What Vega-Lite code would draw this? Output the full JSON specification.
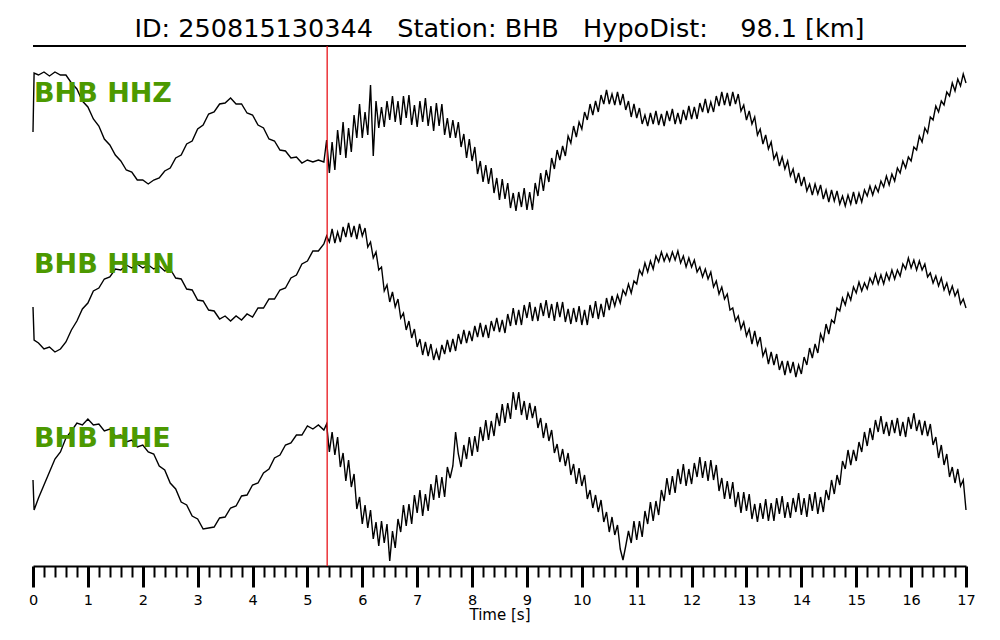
{
"$schema": "https://vega.github.io/schema/vega-lite/v6.json",
"width": 933,
"height": 520,
"autosize": {"type": "none"},
"padding": {"left": 33, "top": 46, "right": 34, "bottom": 74},
"background": "white",
"config": {"view": {"stroke": null}, "font": "DejaVu Sans"},
"title": {"text": "ID: 250815130344\u00a0\u00a0\u00a0Station: BHB\u00a0\u00a0\u00a0HypoDist:\u00a0\u00a0\u00a0\u00a098.1 [km]", "font": "DejaVu Sans", "fontSize": 25.5, "fontWeight": "normal", "color": "black", "anchor": "middle", "frame": "group", "baseline": "alphabetic", "offset": 9, "dy": 26},
"datasets": {
"traces": [
{"t":0,"z":434,"n":259,"e":86},
{"t":0.02,"z":493,"n":226,"e":56},
{"t":0.1,"z":491,"n":223,"e":68},
{"t":0.2,"z":494,"n":217,"e":81},
{"t":0.3,"z":490,"n":219,"e":94},
{"t":0.4,"z":494,"n":214,"e":107},
{"t":0.5,"z":491,"n":217,"e":114},
{"t":0.6,"z":491,"n":224,"e":128},
{"t":0.7,"z":483,"n":236,"e":135},
{"t":0.8,"z":477,"n":245,"e":143},
{"t":0.9,"z":465,"n":257,"e":141},
{"t":1.0,"z":459,"n":263,"e":147},
{"t":1.1,"z":447,"n":275,"e":141},
{"t":1.2,"z":440,"n":278,"e":142},
{"t":1.3,"z":427,"n":287,"e":135},
{"t":1.4,"z":421,"n":289,"e":137},
{"t":1.5,"z":411,"n":297,"e":130},
{"t":1.6,"z":405,"n":296,"e":131},
{"t":1.7,"z":396,"n":301,"e":124},
{"t":1.8,"z":394,"n":298,"e":126},
{"t":1.9,"z":386,"n":302,"e":119},
{"t":2.0,"z":386,"n":298,"e":121},
{"t":2.1,"z":382,"n":301,"e":114},
{"t":2.2,"z":386,"n":297,"e":112},
{"t":2.3,"z":388,"n":300,"e":100},
{"t":2.4,"z":395,"n":295,"e":96},
{"t":2.5,"z":398,"n":297,"e":83},
{"t":2.6,"z":408,"n":288,"e":77},
{"t":2.7,"z":411,"n":287,"e":64},
{"t":2.8,"z":422,"n":277,"e":61},
{"t":2.9,"z":425,"n":276,"e":50},
{"t":3.0,"z":437,"n":266,"e":47},
{"t":3.1,"z":441,"n":265,"e":37},
{"t":3.2,"z":452,"n":256,"e":38},
{"t":3.3,"z":454,"n":255,"e":39},
{"t":3.4,"z":462,"n":247,"e":48},
{"t":3.5,"z":463,"n":250,"e":49},
{"t":3.6,"z":468,"n":245,"e":58},
{"t":3.7,"z":462,"n":250,"e":60},
{"t":3.8,"z":462,"n":246,"e":70},
{"t":3.9,"z":453,"n":252,"e":71},
{"t":4.0,"z":451,"n":249,"e":81},
{"t":4.1,"z":441,"n":258,"e":83},
{"t":4.2,"z":438,"n":258,"e":93},
{"t":4.3,"z":427,"n":267,"e":97},
{"t":4.4,"z":425,"n":267,"e":108},
{"t":4.5,"z":416,"n":276,"e":111},
{"t":4.6,"z":415,"n":278,"e":121},
{"t":4.7,"z":408,"n":288,"e":123},
{"t":4.8,"z":409,"n":291,"e":131},
{"t":4.9,"z":403,"n":302,"e":131},
{"t":5.0,"z":406,"n":305,"e":140},
{"t":5.1,"z":404,"n":315,"e":137},
{"t":5.2,"z":406,"n":315,"e":141},
{"t":5.3,"z":404,"n":322,"e":136},
{"t":5.35,"z":426,"n":330,"e":142},
{"t":5.4,"z":393,"n":324,"e":114},
{"t":5.45,"z":424,"n":337,"e":134},
{"t":5.5,"z":396,"n":323,"e":111},
{"t":5.55,"z":436,"n":334,"e":129},
{"t":5.6,"z":411,"n":324,"e":99},
{"t":5.65,"z":444,"n":339,"e":113},
{"t":5.7,"z":408,"n":329,"e":85},
{"t":5.75,"z":438,"n":343,"e":106},
{"t":5.8,"z":414,"n":329,"e":79},
{"t":5.85,"z":451,"n":340,"e":92},
{"t":5.9,"z":428,"n":327,"e":57},
{"t":5.95,"z":462,"n":342,"e":69},
{"t":6.0,"z":428,"n":330,"e":42},
{"t":6.05,"z":454,"n":338,"e":61},
{"t":6.1,"z":431,"n":319,"e":38},
{"t":6.15,"z":481,"n":324,"e":56},
{"t":6.2,"z":410,"n":308,"e":27},
{"t":6.25,"z":465,"n":314,"e":44},
{"t":6.3,"z":438,"n":296,"e":20},
{"t":6.35,"z":459,"n":299,"e":45},
{"t":6.4,"z":439,"n":275,"e":23},
{"t":6.45,"z":465,"n":281,"e":42},
{"t":6.5,"z":446,"n":264,"e":5},
{"t":6.55,"z":470,"n":274,"e":35},
{"t":6.6,"z":444,"n":259,"e":18},
{"t":6.65,"z":465,"n":267,"e":47},
{"t":6.7,"z":441,"n":248,"e":34},
{"t":6.75,"z":470,"n":253,"e":61},
{"t":6.8,"z":448,"n":236,"e":40},
{"t":6.85,"z":471,"n":245,"e":62},
{"t":6.9,"z":441,"n":228,"e":42},
{"t":6.95,"z":461,"n":237,"e":71},
{"t":7.0,"z":439,"n":219,"e":53},
{"t":7.05,"z":465,"n":227,"e":76},
{"t":7.1,"z":444,"n":211,"e":50},
{"t":7.15,"z":468,"n":224,"e":72},
{"t":7.2,"z":440,"n":210,"e":55},
{"t":7.25,"z":460,"n":222,"e":82},
{"t":7.3,"z":435,"n":206,"e":66},
{"t":7.35,"z":463,"n":216,"e":91},
{"t":7.4,"z":440,"n":206,"e":68},
{"t":7.45,"z":462,"n":221,"e":89},
{"t":7.5,"z":431,"n":212,"e":69},
{"t":7.55,"z":448,"n":226,"e":99},
{"t":7.6,"z":428,"n":214,"e":88},
{"t":7.65,"z":446,"n":227,"e":100},
{"t":7.7,"z":428,"n":215,"e":134},
{"t":7.75,"z":444,"n":232,"e":112},
{"t":7.8,"z":419,"n":222,"e":99},
{"t":7.85,"z":432,"n":236,"e":121},
{"t":7.9,"z":408,"n":223,"e":107},
{"t":7.95,"z":427,"n":235,"e":129},
{"t":8.0,"z":405,"n":225,"e":110},
{"t":8.05,"z":419,"n":240,"e":130},
{"t":8.1,"z":392,"n":229,"e":114},
{"t":8.15,"z":405,"n":243,"e":139},
{"t":8.2,"z":384,"n":229,"e":125},
{"t":8.25,"z":401,"n":241,"e":146},
{"t":8.3,"z":382,"n":228,"e":126},
{"t":8.35,"z":398,"n":245,"e":145},
{"t":8.4,"z":373,"n":235,"e":130},
{"t":8.45,"z":388,"n":248,"e":153},
{"t":8.5,"z":366,"n":234,"e":140},
{"t":8.55,"z":387,"n":246,"e":162},
{"t":8.6,"z":367,"n":233,"e":143},
{"t":8.65,"z":383,"n":252,"e":163},
{"t":8.7,"z":358,"n":240,"e":147},
{"t":8.75,"z":373,"n":258,"e":174},
{"t":8.8,"z":355,"n":241,"e":156},
{"t":8.85,"z":374,"n":256,"e":174},
{"t":8.9,"z":359,"n":241,"e":151},
{"t":8.95,"z":378,"n":261,"e":165},
{"t":9.0,"z":356,"n":248,"e":146},
{"t":9.05,"z":374,"n":264,"e":163},
{"t":9.1,"z":356,"n":245,"e":148},
{"t":9.15,"z":383,"n":259,"e":160},
{"t":9.2,"z":370,"n":245,"e":138},
{"t":9.25,"z":393,"n":263,"e":148},
{"t":9.3,"z":375,"n":250,"e":128},
{"t":9.35,"z":396,"n":266,"e":143},
{"t":9.4,"z":384,"n":248,"e":125},
{"t":9.45,"z":408,"n":262,"e":136},
{"t":9.5,"z":397,"n":245,"e":113},
{"t":9.55,"z":416,"n":264,"e":122},
{"t":9.6,"z":406,"n":249,"e":104},
{"t":9.65,"z":420,"n":264,"e":117},
{"t":9.7,"z":410,"n":244,"e":100},
{"t":9.75,"z":430,"n":257,"e":113},
{"t":9.8,"z":423,"n":242,"e":91},
{"t":9.85,"z":440,"n":258,"e":102},
{"t":9.9,"z":429,"n":244,"e":82},
{"t":9.95,"z":444,"n":260,"e":98},
{"t":10.0,"z":437,"n":241,"e":80},
{"t":10.05,"z":454,"n":256,"e":91},
{"t":10.1,"z":446,"n":241,"e":67},
{"t":10.15,"z":462,"n":261,"e":76},
{"t":10.2,"z":451,"n":248,"e":58},
{"t":10.25,"z":465,"n":265,"e":71},
{"t":10.3,"z":454,"n":247,"e":54},
{"t":10.35,"z":471,"n":262,"e":66},
{"t":10.4,"z":462,"n":249,"e":44},
{"t":10.45,"z":476,"n":268,"e":54},
{"t":10.5,"z":462,"n":256,"e":34},
{"t":10.55,"z":472,"n":270,"e":49},
{"t":10.6,"z":461,"n":260,"e":31},
{"t":10.65,"z":474,"n":271,"e":41},
{"t":10.7,"z":461,"n":263,"e":17},
{"t":10.75,"z":472,"n":276,"e":6},
{"t":10.8,"z":456,"n":271,"e":20},
{"t":10.85,"z":465,"n":282,"e":35},
{"t":10.9,"z":449,"n":273,"e":23},
{"t":10.95,"z":462,"n":285,"e":45},
{"t":11.0,"z":448,"n":282,"e":26},
{"t":11.05,"z":458,"n":296,"e":45},
{"t":11.1,"z":442,"n":291,"e":29},
{"t":11.15,"z":451,"n":303,"e":55},
{"t":11.2,"z":440,"n":294,"e":42},
{"t":11.25,"z":453,"n":305,"e":64},
{"t":11.3,"z":442,"n":297,"e":45},
{"t":11.35,"z":455,"n":310,"e":65},
{"t":11.4,"z":441,"n":304,"e":51},
{"t":11.45,"z":452,"n":314,"e":76},
{"t":11.5,"z":440,"n":305,"e":65},
{"t":11.55,"z":455,"n":312,"e":88},
{"t":11.6,"z":445,"n":305,"e":71},
{"t":11.65,"z":457,"n":314,"e":90},
{"t":11.7,"z":442,"n":306,"e":73},
{"t":11.75,"z":453,"n":315,"e":97},
{"t":11.8,"z":442,"n":303,"e":82},
{"t":11.85,"z":456,"n":310,"e":102},
{"t":11.9,"z":446,"n":299,"e":80},
{"t":11.95,"z":460,"n":308,"e":97},
{"t":12.0,"z":447,"n":299,"e":82},
{"t":12.05,"z":459,"n":306,"e":103},
{"t":12.1,"z":447,"n":294,"e":89},
{"t":12.15,"z":463,"n":299,"e":109},
{"t":12.2,"z":454,"n":289,"e":88},
{"t":12.25,"z":467,"n":297,"e":105},
{"t":12.3,"z":453,"n":287,"e":85},
{"t":12.35,"z":464,"n":294,"e":106},
{"t":12.4,"z":454,"n":279,"e":86},
{"t":12.45,"z":470,"n":285,"e":101},
{"t":12.5,"z":460,"n":272,"e":75},
{"t":12.55,"z":474,"n":279,"e":88},
{"t":12.6,"z":461,"n":267,"e":67},
{"t":12.65,"z":473,"n":272,"e":85},
{"t":12.7,"z":460,"n":256,"e":67},
{"t":12.75,"z":474,"n":258,"e":84},
{"t":12.8,"z":462,"n":245,"e":59},
{"t":12.85,"z":472,"n":250,"e":74},
{"t":12.9,"z":455,"n":237,"e":53},
{"t":12.95,"z":461,"n":244,"e":74},
{"t":13.0,"z":446,"n":230,"e":55},
{"t":13.05,"z":455,"n":237,"e":72},
{"t":13.1,"z":442,"n":222,"e":47},
{"t":13.15,"z":449,"n":235,"e":62},
{"t":13.2,"z":431,"n":221,"e":44},
{"t":13.25,"z":437,"n":229,"e":63},
{"t":13.3,"z":422,"n":210,"e":47},
{"t":13.35,"z":431,"n":217,"e":67},
{"t":13.4,"z":417,"n":202,"e":45},
{"t":13.45,"z":424,"n":214,"e":63},
{"t":13.5,"z":407,"n":201,"e":45},
{"t":13.55,"z":413,"n":212,"e":68},
{"t":13.6,"z":400,"n":196,"e":52},
{"t":13.65,"z":409,"n":205,"e":70},
{"t":13.7,"z":397,"n":191,"e":48},
{"t":13.75,"z":405,"n":205,"e":64},
{"t":13.8,"z":390,"n":193,"e":48},
{"t":13.85,"z":397,"n":204,"e":68},
{"t":13.9,"z":383,"n":189,"e":54},
{"t":13.95,"z":393,"n":201,"e":73},
{"t":14.0,"z":380,"n":192,"e":51},
{"t":14.05,"z":389,"n":209,"e":68},
{"t":14.1,"z":375,"n":201,"e":49},
{"t":14.15,"z":382,"n":218,"e":72},
{"t":14.2,"z":371,"n":208,"e":55},
{"t":14.25,"z":382,"n":222,"e":74},
{"t":14.3,"z":372,"n":213,"e":52},
{"t":14.35,"z":381,"n":232,"e":69},
{"t":14.4,"z":367,"n":225,"e":54},
{"t":14.45,"z":376,"n":242,"e":76},
{"t":14.5,"z":364,"n":232,"e":66},
{"t":14.55,"z":376,"n":246,"e":86},
{"t":14.6,"z":365,"n":243,"e":72},
{"t":14.65,"z":375,"n":258,"e":91},
{"t":14.7,"z":362,"n":255,"e":81},
{"t":14.75,"z":370,"n":268,"e":105},
{"t":14.8,"z":360,"n":261,"e":97},
{"t":14.85,"z":371,"n":273,"e":116},
{"t":14.9,"z":362,"n":266,"e":101},
{"t":14.95,"z":374,"n":279,"e":116},
{"t":15.0,"z":362,"n":273,"e":105},
{"t":15.05,"z":373,"n":284,"e":124},
{"t":15.1,"z":364,"n":275,"e":114},
{"t":15.15,"z":376,"n":283,"e":134},
{"t":15.2,"z":370,"n":277,"e":120},
{"t":15.25,"z":380,"n":288,"e":138},
{"t":15.3,"z":371,"n":282,"e":126},
{"t":15.35,"z":380,"n":292,"e":146},
{"t":15.4,"z":374,"n":282,"e":134},
{"t":15.45,"z":385,"n":291,"e":150},
{"t":15.5,"z":379,"n":282,"e":132},
{"t":15.55,"z":390,"n":293,"e":144},
{"t":15.6,"z":381,"n":286,"e":130},
{"t":15.65,"z":392,"n":296,"e":146},
{"t":15.7,"z":385,"n":287,"e":133},
{"t":15.75,"z":398,"n":296,"e":148},
{"t":15.8,"z":393,"n":290,"e":130},
{"t":15.85,"z":405,"n":302,"e":144},
{"t":15.9,"z":398,"n":297,"e":129},
{"t":15.95,"z":409,"n":308,"e":149},
{"t":16.0,"z":405,"n":298,"e":137},
{"t":16.05,"z":419,"n":306,"e":153},
{"t":16.1,"z":416,"n":296,"e":135},
{"t":16.15,"z":430,"n":305,"e":146},
{"t":16.2,"z":424,"n":296,"e":131},
{"t":16.25,"z":438,"n":302,"e":145},
{"t":16.3,"z":433,"n":289,"e":130},
{"t":16.35,"z":449,"n":293,"e":142},
{"t":16.4,"z":446,"n":283,"e":121},
{"t":16.45,"z":460,"n":290,"e":129},
{"t":16.5,"z":454,"n":280,"e":108},
{"t":16.55,"z":465,"n":288,"e":121},
{"t":16.6,"z":461,"n":276,"e":101},
{"t":16.65,"z":474,"n":283,"e":112},
{"t":16.7,"z":470,"n":272,"e":89},
{"t":16.75,"z":483,"n":280,"e":99},
{"t":16.8,"z":475,"n":270,"e":83},
{"t":16.85,"z":487,"n":276,"e":97},
{"t":16.9,"z":480,"n":262,"e":80},
{"t":16.95,"z":492,"n":267,"e":86},
{"t":17.0,"z":483,"n":258,"e":56}
],
"labels": [
{"t":0,"amp":464,"label":"BHB HHZ"},
{"t":0,"amp":293,"label":"BHB HHN"},
{"t":0,"amp":119,"label":"BHB HHE"}
]
},
"layer": [
{
"data": {"name": "traces"},
"transform": [{"fold": ["z", "n", "e"], "as": ["comp", "amp"]}],
"mark": {"type": "line", "color": "black", "strokeWidth": 1.4},
"encoding": {
"x": {"field": "t", "type": "quantitative", "scale": {"domain": [0, 17], "nice": false, "zero": false},
"axis": {
"title": "Time [s]",
"titleFont": "DejaVu Sans", "titleFontSize": 15, "titleFontWeight": "normal", "titleColor": "black", "titlePadding": 1,
"tickCount": 200,
"values": [0,0.2,0.4,0.6,0.8,1,1.2,1.4,1.6,1.8,2,2.2,2.4,2.6,2.8,3,3.2,3.4,3.6,3.8,4,4.2,4.4,4.6,4.8,5,5.2,5.4,5.6,5.8,6,6.2,6.4,6.6,6.8,7,7.2,7.4,7.6,7.8,8,8.2,8.4,8.6,8.8,9,9.2,9.4,9.6,9.8,10,10.2,10.4,10.6,10.8,11,11.2,11.4,11.6,11.8,12,12.2,12.4,12.6,12.8,13,13.2,13.4,13.6,13.8,14,14.2,14.4,14.6,14.8,15,15.2,15.4,15.6,15.8,16,16.2,16.4,16.6,16.8,17],
"labelExpr": "datum.value % 1 === 0 ? format(datum.value, 'd') : ''",
"labelFont": "DejaVu Sans", "labelFontSize": 14.5, "labelColor": "black", "labelPadding": 6,
"labelOverlap": false, "labelFlush": false, "labelBound": false,
"tickSize": {"condition": {"test": "datum.value % 1 === 0", "value": 21}, "value": 11},
"tickWidth": {"condition": {"test": "datum.value % 1 === 0", "value": 3}, "value": 2},
"tickColor": "black", "domainColor": "black", "domainWidth": 2, "grid": false
}},
"y": {"field": "amp", "type": "quantitative", "scale": {"domain": [0, 520], "nice": false, "zero": false}, "axis": null},
"detail": {"field": "comp"}
}
},
{
"data": {"values": [{"top": 520}]},
"mark": {"type": "rule", "color": "black", "strokeWidth": 2},
"encoding": {"y": {"field": "top", "type": "quantitative"}}
},
{
"data": {"values": [{"p": 5.36}]},
"mark": {"type": "rule", "color": "#e8141a", "strokeWidth": 1.3},
"encoding": {"x": {"field": "p", "type": "quantitative"}}
},
{
"data": {"name": "labels"},
"mark": {"type": "text", "align": "left", "baseline": "alphabetic", "font": "DejaVu Sans", "fontSize": 27, "fontWeight": "bold", "color": "#4c9900", "dx": 1},
"encoding": {
"x": {"field": "t", "type": "quantitative"},
"y": {"field": "amp", "type": "quantitative"},
"text": {"field": "label"}
}
}
]
}
